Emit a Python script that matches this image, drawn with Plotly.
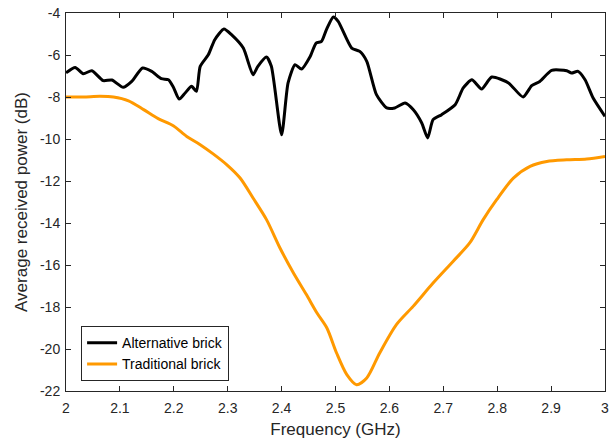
import plotly.graph_objects as go

# Alternative brick: frequency (GHz) and average received power (dB)
alt_freq = [2.000, 2.017, 2.032, 2.048, 2.069, 2.085, 2.106, 2.122, 2.142, 2.159,
            2.177, 2.190, 2.199, 2.210, 2.221, 2.233, 2.242, 2.249, 2.264, 2.276,
            2.293, 2.307, 2.329, 2.347, 2.356, 2.372, 2.381, 2.400, 2.412, 2.425,
            2.437, 2.453, 2.464, 2.474, 2.483, 2.496, 2.505, 2.530, 2.545, 2.558,
            2.576, 2.595, 2.610, 2.629, 2.644, 2.660, 2.671, 2.681, 2.697, 2.722,
            2.737, 2.753, 2.771, 2.790, 2.821, 2.848, 2.864, 2.879, 2.901, 2.929,
            2.938, 2.950, 2.963, 2.978, 3.000]
alt_power = [-6.85, -6.59, -6.89, -6.75, -7.22, -7.19, -7.54, -7.26, -6.62, -6.78,
             -7.13, -7.18, -7.52, -8.10, -7.81, -7.49, -7.73, -6.54, -5.99, -5.27,
             -4.76, -5.03, -5.67, -6.94, -6.54, -6.10, -6.54, -9.80, -7.33, -6.46,
             -6.67, -6.07, -5.43, -5.35, -4.80, -4.19, -4.40, -5.67, -5.83, -6.30,
             -7.89, -8.52, -8.52, -8.29, -8.60, -9.24, -9.95, -9.08, -8.84, -8.37,
             -7.57, -7.18, -7.62, -7.05, -7.33, -8.00, -7.46, -7.26, -6.73, -6.75,
             -6.86, -6.78, -7.18, -8.05, -8.92]

# Traditional brick
trad_freq = [2.000, 2.032, 2.063, 2.088, 2.116, 2.144, 2.171, 2.199, 2.224, 2.249,
             2.273, 2.298, 2.323, 2.347, 2.372, 2.397, 2.422, 2.446, 2.466, 2.484,
             2.502, 2.521, 2.539, 2.558, 2.582, 2.613, 2.644, 2.681, 2.718, 2.749,
             2.774, 2.799, 2.830, 2.861, 2.892, 2.929, 2.966, 3.000]
trad_power = [-8.00, -8.00, -7.97, -8.00, -8.18, -8.60, -9.03, -9.37, -9.88, -10.27,
              -10.71, -11.22, -11.86, -12.81, -13.84, -15.19, -16.38, -17.41, -18.30, -19.00,
              -20.19, -21.22, -21.70, -21.38, -20.19, -18.84, -17.97, -16.86, -15.83, -14.95,
              -13.84, -12.89, -11.86, -11.30, -11.07, -10.99, -10.95, -10.83]

x_ticks = [2, 2.1, 2.2, 2.3, 2.4, 2.5, 2.6, 2.7, 2.8, 2.9, 3]
x_tick_labels = ["2", "2.1", "2.2", "2.3", "2.4", "2.5", "2.6", "2.7", "2.8", "2.9", "3"]
y_ticks = [-22, -20, -18, -16, -14, -12, -10, -8, -6, -4]
y_tick_labels = ["-22", "-20", "-18", "-16", "-14", "-12", "-10", "-8", "-6", "-4"]

fig = go.Figure()
fig.add_trace(go.Scatter(
    x=alt_freq, y=alt_power, mode="lines", name="Alternative brick",
    line=dict(color="#000000", width=3, shape="spline", smoothing=0.6),
))
fig.add_trace(go.Scatter(
    x=trad_freq, y=trad_power, mode="lines", name="Traditional brick",
    line=dict(color="#FF9900", width=3, shape="spline", smoothing=0.8),
))

axis_common = dict(
    showline=True, linecolor="#262626", linewidth=1, mirror="ticks",
    ticks="inside", ticklen=5, tickcolor="#262626", showgrid=False, zeroline=False,
    tickfont=dict(family="Liberation Sans, Arial", size=14, color="#262626"),
    automargin=False,
)

fig.update_layout(
    width=615, height=442,
    margin=dict(l=66, r=10, t=13, b=51),
    paper_bgcolor="white", plot_bgcolor="white",
    font=dict(family="Liberation Sans, Arial", color="#262626"),
    showlegend=True,
    legend=dict(
        x=0.028, y=0.026, xanchor="left", yanchor="bottom",
        bordercolor="#262626", borderwidth=1, bgcolor="white",
        font=dict(size=14, color="#000000"),
        tracegroupgap=0, itemwidth=30,
    ),
    xaxis=dict(
        range=[2, 3], tickvals=x_ticks, ticktext=x_tick_labels,
        ticklabelstandoff=4,
        title=dict(text="Frequency (GHz)", font=dict(size=17), standoff=8),
        **axis_common,
    ),
    yaxis=dict(
        range=[-22, -4], tickvals=y_ticks, ticktext=y_tick_labels,
        ticklabelstandoff=2,
        title=dict(text="Average received power (dB)", font=dict(size=17), standoff=8),
        **axis_common,
    ),
)

fig.write_html("out.html")
